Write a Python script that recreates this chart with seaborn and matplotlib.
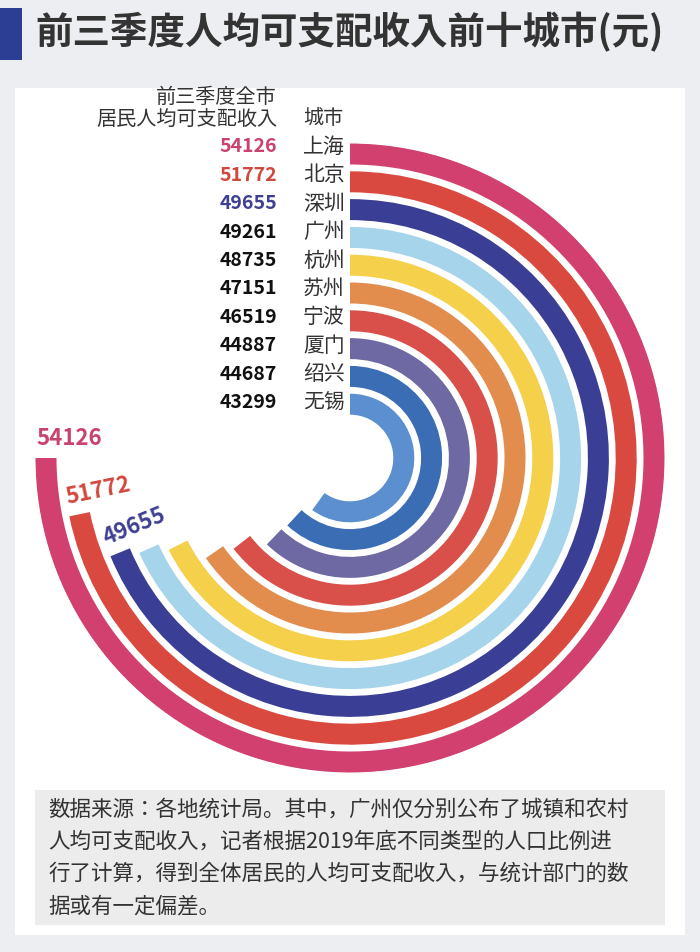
import numpy as np
import seaborn as sns
import matplotlib
matplotlib.use("Agg")
import matplotlib.pyplot as plt
from matplotlib import font_manager as fm
from matplotlib.patches import Rectangle

cities = ["上海", "北京", "深圳", "广州", "杭州", "苏州", "宁波", "厦门", "绍兴", "无锡"]
incomes = [54126, 51772, 49655, 49261, 48735, 47151, 46519, 44887, 44687, 43299]
colors = ["#d1406e", "#d9493f", "#3a3f95", "#a6d4ea", "#f5d04a",
          "#e28c4e", "#d9504a", "#6e68a3", "#3b6db5", "#5b8fd0"]
value_colors = ["#c9436e", "#d2473c", "#3f3f93"] + ["#111111"] * 7
title = "前三季度人均可支配收入前十城市(元)"
note = ["数据来源：各地统计局。其中，广州仅分别公布了城镇和农村",
        "人均可支配收入，记者根据2019年底不同类型的人口比例进",
        "行了计算，得到全体居民的人均可支配收入，与统计部门的数",
        "据或有一定偏差。"]

sns.set_theme(style="white")
cjk = [f for f in fm.fontManager.ttflist if "CJK" in f.name]
names = sorted({f.name for f in cjk}, key=lambda n: (0 if "SC" in n else 1, n))
fam = names[0] if names else "DejaVu Sans"
plt.rcParams["font.family"] = "sans-serif"
plt.rcParams["font.sans-serif"] = [fam, "Noto Sans CJK SC", "DejaVu Sans"]

W, H = 700, 952
fig = plt.figure(figsize=(7, 9.52), dpi=100)
fig.patch.set_facecolor("#eceef2")

def fx(x): return x / W
def fy(y): return 1 - y / H

fig.add_artist(Rectangle((fx(15), fy(935)), fx(670), 847 / H, transform=fig.transFigure,
                         facecolor="white", edgecolor="none", zorder=0))
fig.add_artist(Rectangle((fx(35), fy(925)), fx(630), 135 / H, transform=fig.transFigure,
                         facecolor="#ececec", edgecolor="none", zorder=1))
fig.add_artist(Rectangle((0, fy(60)), fx(22), 52 / H, transform=fig.transFigure,
                         facecolor="#2c3e94", edgecolor="none", zorder=1))
fig.text(fx(35), fy(32), title, fontsize=27, fontweight="bold", color="#333333",
         va="center", ha="left")

cx, cy, R = 350, 458, 315
ax = fig.add_axes([fx(cx - R), fy(cy + R), 2 * R / W, 2 * R / H], projection="polar")
ax.set_theta_zero_location("N")
ax.set_theta_direction(-1)
ax.set_ylim(0, R)
ax.set_facecolor("none")
ax.axis("off")
full = incomes[0]
radii = [304 - 27.8 * i for i in range(len(cities))]
thetas = [np.deg2rad(v / full * 270) for v in incomes]
ax.barh(radii, thetas, left=0, height=21, color=colors, edgecolor="none")
for i in range(3):
    th = thetas[i] + np.deg2rad(1.5)
    rot = 270 - np.rad2deg(thetas[i])
    ax.text(th, radii[i] + 10, f"{incomes[i]}", color=value_colors[i], fontsize=16,
            fontweight="bold", rotation=rot, ha="left", va="bottom",
            rotation_mode="anchor")

fig.text(fx(277), fy(97), "前三季度全市", fontsize=14.5, color="#333333", ha="right", va="center")
fig.text(fx(277), fy(119), "居民人均可支配收入", fontsize=14.5, color="#333333", ha="right", va="center")
fig.text(fx(303), fy(119), "城市", fontsize=14.5, color="#333333", ha="left", va="center")
for i, (c, v) in enumerate(zip(cities, incomes)):
    y = 147 + 28.4 * i
    fig.text(fx(277), fy(y), f"{v}", fontsize=14, fontweight="bold",
             color=value_colors[i], ha="right", va="center")
    fig.text(fx(303), fy(y), c, fontsize=15, color="#333333", ha="left", va="center")

for j, line in enumerate(note):
    fig.text(fx(48), fy(810 + 32 * j), line, fontsize=15.5, color="#333333",
             ha="left", va="center")

fig.savefig("out.png", dpi=100, facecolor=fig.get_facecolor())
